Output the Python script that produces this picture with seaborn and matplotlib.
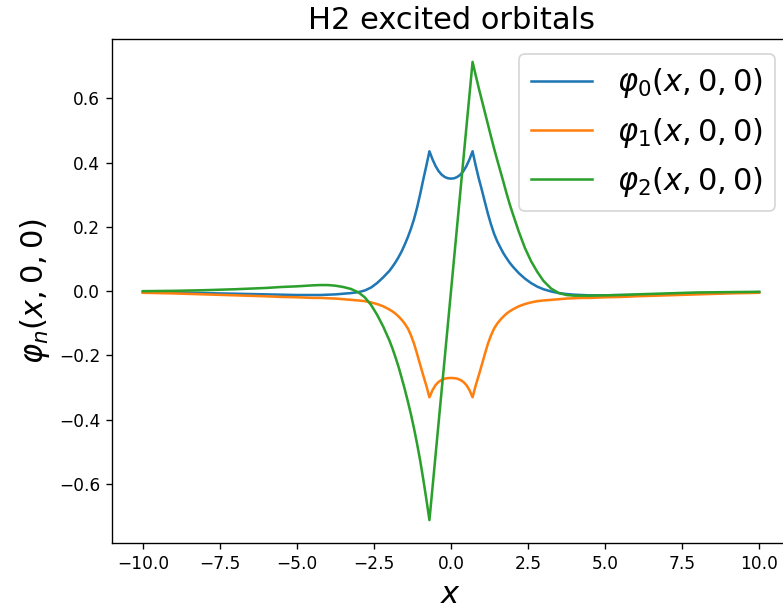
import matplotlib
matplotlib.use("Agg")
import matplotlib.pyplot as plt
import seaborn as sns
import pandas as pd

# sample positions along the x axis
x_vals = [-10, -9, -8, -7, -6, -5.5, -5, -4.5, -4.25, -4, -3.75, -3.5, -3.25, -3,
          -2.8, -2.6, -2.4, -2.2, -2, -1.9, -1.8, -1.7, -1.6, -1.5, -1.4, -1.3, -1.2,
          -1.1, -1.0, -0.9, -0.8, -0.7,
          -0.6, -0.5, -0.4, -0.3, -0.2, -0.1, 0, 0.1, 0.2, 0.3, 0.4, 0.5, 0.6,
          0.7, 0.8, 0.9, 1.0, 1.1, 1.2, 1.3, 1.4, 1.5, 1.6, 1.7, 1.8, 1.9, 2.0,
          2.2, 2.4, 2.6, 2.8, 3.0, 3.25, 3.5, 3.75, 4.0, 4.25, 4.5, 5, 5.5, 6, 7, 8, 9, 10]

phi0 = [-0.003, -0.004, -0.006, -0.008, -0.010, -0.011, -0.012, -0.012, -0.012, -0.011,
        -0.010, -0.008, -0.006, -0.003, 0.002, 0.011, 0.025, 0.043, 0.063, 0.076,
        0.090, 0.106, 0.124, 0.145, 0.168, 0.194, 0.224, 0.260, 0.302, 0.347, 0.390,
        0.435,
        0.410, 0.389, 0.373, 0.362, 0.355, 0.351, 0.350, 0.351, 0.355, 0.362, 0.373,
        0.389, 0.410,
        0.435, 0.391, 0.351, 0.315, 0.277, 0.240, 0.207, 0.178, 0.155, 0.136, 0.118,
        0.103, 0.089, 0.077, 0.056, 0.039, 0.025, 0.014, 0.006, -0.001, -0.006, -0.009,
        -0.011, -0.012, -0.013, -0.013, -0.012, -0.012, -0.010, -0.007, -0.005, -0.003]

phi1 = [-0.005, -0.007, -0.010, -0.013, -0.016, -0.018, -0.019, -0.021, -0.021, -0.022,
        -0.023, -0.025, -0.027, -0.029, -0.031, -0.035, -0.040, -0.047, -0.057, -0.063,
        -0.070, -0.079, -0.089, -0.101, -0.116, -0.137, -0.163, -0.195, -0.229, -0.262,
        -0.294, -0.330,
        -0.308, -0.292, -0.282, -0.276, -0.272, -0.2705, -0.270, -0.2705, -0.272, -0.276,
        -0.282, -0.292, -0.308,
        -0.330, -0.294, -0.262, -0.229, -0.195, -0.163, -0.137, -0.116, -0.101, -0.089,
        -0.079, -0.070, -0.063, -0.057, -0.047, -0.040, -0.035, -0.031, -0.029, -0.027,
        -0.025, -0.023, -0.022, -0.021, -0.021, -0.019, -0.018, -0.016, -0.013, -0.010,
        -0.007, -0.005]

phi2 = [0.000, 0.001, 0.003, 0.006, 0.010, 0.013, 0.015, 0.018, 0.019, 0.019,
        0.017, 0.013, 0.007, -0.004, -0.019, -0.042, -0.073, -0.110, -0.153, -0.178,
        -0.206, -0.236, -0.270, -0.305, -0.343, -0.383, -0.427, -0.475, -0.527, -0.585,
        -0.647, -0.712,
        -0.611, -0.509, -0.407, -0.305, -0.204, -0.102, 0.000, 0.102, 0.204, 0.306,
        0.408, 0.510, 0.611,
        0.713, 0.672, 0.632, 0.594, 0.556, 0.518, 0.480, 0.443, 0.408, 0.374, 0.340,
        0.305, 0.272, 0.242, 0.185, 0.134, 0.093, 0.060, 0.032, 0.008, -0.006, -0.012,
        -0.014, -0.014, -0.014, -0.013, -0.012, -0.010, -0.007, -0.004, -0.003, -0.002]

labels = [r"$\varphi_0(x, 0, 0)$", r"$\varphi_1(x, 0, 0)$", r"$\varphi_2(x, 0, 0)$"]
colors = ["#1f77b4", "#ff7f0e", "#2ca02c"]

frames = []
for lab, ys in zip(labels, [phi0, phi1, phi2]):
    frames.append(pd.DataFrame({"x": x_vals, "y": ys, "orbital": lab}))
df = pd.concat(frames, ignore_index=True)

dpi = 122
fig = plt.figure(figsize=(783 / dpi, 610 / dpi), dpi=dpi)
ax = fig.add_axes([112 / 783, 67 / 610, 678 / 783, 504 / 610])

sns.lineplot(data=df, x="x", y="y", hue="orbital", palette=colors, ax=ax,
             linewidth=1.5, sort=False, estimator=None)

ax.set_title("H2 excited orbitals", fontsize=18)
ax.set_xlabel(r"$x$", fontsize=18)
ax.set_ylabel(r"$\varphi_n(x, 0, 0)$", fontsize=18)
ax.tick_params(labelsize=10)
ax.legend(fontsize=18, loc="upper right")

fig.savefig("out.png", dpi=dpi)
